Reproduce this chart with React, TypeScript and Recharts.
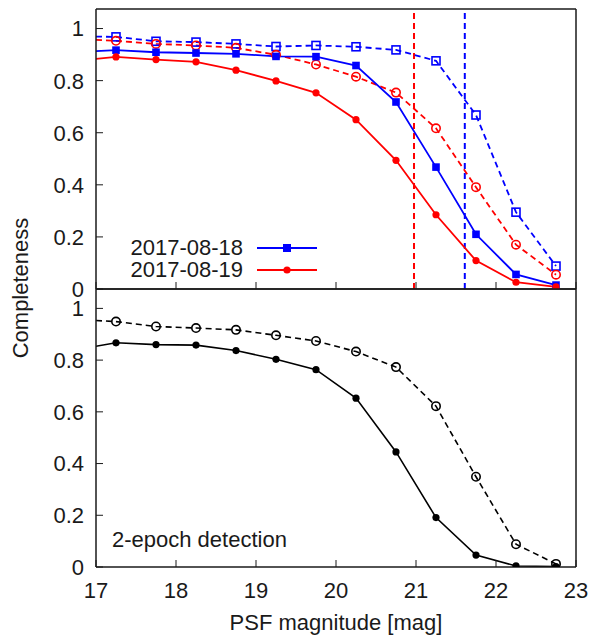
import React from "react";
import { LineChart, Line, XAxis, YAxis, ReferenceLine, Legend } from "recharts";

const FONT = '"Liberation Sans", Arial, Helvetica, sans-serif';
const FS = 22;

// magnitude bins (first one sits just left of the frame and gets clipped)
const mags = [16.75, 17.25, 17.75, 18.25, 18.75, 19.25, 19.75, 20.25, 20.75, 21.25, 21.75, 22.25, 22.75];

const aug18 = [0.91, 0.917, 0.909, 0.906, 0.903, 0.893, 0.892, 0.858, 0.718, 0.468, 0.21, 0.056, 0.015];
const aug18Dash = [0.97, 0.968, 0.951, 0.948, 0.941, 0.931, 0.935, 0.93, 0.918, 0.876, 0.668, 0.295, 0.088];
const aug19 = [0.876, 0.891, 0.881, 0.872, 0.84, 0.799, 0.753, 0.65, 0.494, 0.285, 0.109, 0.026, 0.008];
const aug19Dash = [0.96, 0.953, 0.941, 0.935, 0.926, 0.899, 0.862, 0.815, 0.754, 0.617, 0.391, 0.17, 0.055];
const twoEpoch = [0.84, 0.867, 0.86, 0.858, 0.837, 0.803, 0.763, 0.653, 0.445, 0.191, 0.046, 0.004, 0.002];
const twoEpochDash = [0.957, 0.949, 0.93, 0.924, 0.917, 0.896, 0.874, 0.833, 0.773, 0.622, 0.349, 0.088, 0.012];

const limit18 = 21.61;
const limit19 = 20.975;

const xTicks = [17, 18, 19, 20, 21, 22, 23];
const yTicks = [0, 0.2, 0.4, 0.6, 0.8, 1];

const topData = mags.map((m, i) => ({ m, a18: aug18[i], a18d: aug18Dash[i], a19: aug19[i], a19d: aug19Dash[i] }));
const botData = mags.map((m, i) => ({ m, e2: twoEpoch[i], e2d: twoEpochDash[i] }));

const BLUE = "#0000ff";
const RED = "#ff0000";
const INK = "#1a1a1a";

function LeftTick(props: any) {
  const { x, y, payload } = props;
  return (
    <g>
      <line x1={x} x2={x + 7} y1={y} y2={y} stroke={INK} strokeWidth={1} />
      <text x={x - 12} y={y} dy="0.36em" textAnchor="end" fontSize={FS} fill={INK} fontFamily={FONT}>
        {payload.value}
      </text>
    </g>
  );
}
function RightTick(props: any) {
  const { x, y } = props;
  return <line x1={x} x2={x - 7} y1={y} y2={y} stroke={INK} strokeWidth={1} />;
}
function TopTick(props: any) {
  const { x, y } = props;
  return <line x1={x} x2={x} y1={y} y2={y + 7} stroke={INK} strokeWidth={1} />;
}
function BottomTick(props: any) {
  const { x, y, payload, labels } = props;
  return (
    <g>
      <line x1={x} x2={x} y1={y} y2={y - 7} stroke={INK} strokeWidth={1} />
      {labels && (
        <text x={x} y={y + 15} dy="0.71em" textAnchor="middle" fontSize={FS} fill={INK} fontFamily={FONT}>
          {payload.value}
        </text>
      )}
    </g>
  );
}

const sq = (color: string, open: boolean) => (p: any) =>
  p.cx == null ? <g key={p.key} /> : (
    <rect key={p.key} x={p.cx - (open ? 4 : 3.8)} y={p.cy - (open ? 4 : 3.8)} width={open ? 8 : 7.6} height={open ? 8 : 7.6}
      fill={open ? "none" : color} stroke={color} strokeWidth={open ? 1.6 : 0} />
  );
const circ = (color: string, open: boolean) => (p: any) =>
  p.cx == null ? <g key={p.key} /> : (
    <circle key={p.key} cx={p.cx} cy={p.cy} r={open ? 4.2 : 3.6}
      fill={open ? "none" : color} stroke={color} strokeWidth={open ? 1.6 : 0} />
  );

function LegendBox() {
  const rows = [
    { name: "2017-08-18", color: BLUE, marker: <rect x={26} y={2} width={8} height={8} fill={BLUE} /> },
    { name: "2017-08-19", color: RED, marker: <circle cx={30} cy={6} r={3.6} fill={RED} /> },
  ];
  return (
    <div style={{ fontFamily: FONT, fontSize: FS, color: INK }}>
      {rows.map((r) => (
        <div key={r.name} style={{ display: "flex", alignItems: "center", height: 22 }}>
          <span style={{ width: 135, textAlign: "right", lineHeight: "18px" }}>{r.name}</span>
          <svg width={60} height={12} style={{ marginLeft: 14 }}>
            <line x1={0} x2={60} y1={6} y2={6} stroke={r.color} strokeWidth={2} />
            {r.marker}
          </svg>
        </div>
      ))}
    </div>
  );
}

export default function App() {
  const axisLine = { stroke: INK, strokeWidth: 1.5 };
  const commonAxes = (labels: boolean) => [
    <XAxis key="xb" xAxisId={0} dataKey="m" type="number" domain={[17, 23]} allowDataOverflow ticks={xTicks} interval={0}
      height={1} tickSize={0} tickMargin={0} tickLine={false} axisLine={axisLine}
      tick={(p: any) => <BottomTick {...p} labels={labels} />} />,
    <XAxis key="xt" xAxisId="t" orientation="top" type="number" domain={[17, 23]} ticks={xTicks} interval={0}
      height={1} tickSize={0} tickMargin={0} tickLine={false} axisLine={axisLine} tick={(p: any) => <TopTick {...p} />} />,
    <YAxis key="yl" yAxisId={0} type="number" domain={[0, 1.075]} allowDataOverflow ticks={yTicks} interval={0}
      width={60} tickSize={0} tickMargin={0} tickLine={false} axisLine={axisLine} tick={(p: any) => <LeftTick {...p} />} />,
    <YAxis key="yr" yAxisId="r" orientation="right" type="number" domain={[0, 1.075]} ticks={yTicks} interval={0}
      width={1} tickSize={0} tickMargin={0} tickLine={false} axisLine={axisLine} tick={(p: any) => <RightTick {...p} />} />,
  ];

  return (
    <div style={{ position: "absolute", left: 0, top: 0, width: 589, height: 640, background: "#fff", fontFamily: FONT }}>
      <div style={{ position: "absolute", left: 0, top: 0 }}>
        <LineChart width={589} height={310} data={topData} margin={{ top: 8, right: 12, bottom: 20, left: 36 }}>
          {commonAxes(false)}
          <ReferenceLine x={limit19} stroke={RED} strokeWidth={2} strokeDasharray="6 4" />
          <ReferenceLine x={limit18} stroke={BLUE} strokeWidth={2} strokeDasharray="6 4" />
          <Line dataKey="a18d" stroke={BLUE} strokeWidth={1.8} strokeDasharray="6 4" dot={sq(BLUE, true)} isAnimationActive={false} />
          <Line dataKey="a19d" stroke={RED} strokeWidth={1.8} strokeDasharray="6 4" dot={circ(RED, true)} isAnimationActive={false} />
          <Line dataKey="a18" stroke={BLUE} strokeWidth={1.8} dot={sq(BLUE, false)} isAnimationActive={false} />
          <Line dataKey="a19" stroke={RED} strokeWidth={1.8} dot={circ(RED, false)} isAnimationActive={false} />
          <Legend layout="vertical" align="center" verticalAlign="middle" content={() => <LegendBox />}
            wrapperStyle={{ position: "absolute", left: 108, top: 237, width: 220 }} />
        </LineChart>
      </div>
      <div style={{ position: "absolute", left: 0, top: 280 }}>
        <LineChart width={589} height={360} data={botData} margin={{ top: 8, right: 12, bottom: 72, left: 36 }}>
          {commonAxes(true)}
          <Line dataKey="e2d" stroke="#000" strokeWidth={1.6} strokeDasharray="6 4" dot={circ("#000", true)} isAnimationActive={false} />
          <Line dataKey="e2" stroke="#000" strokeWidth={1.6} dot={circ("#000", false)} isAnimationActive={false} />
        </LineChart>
      </div>
      <svg width={589} height={640} style={{ position: "absolute", left: 0, top: 0, pointerEvents: "none" }}>
        <text x={0} y={0} transform="translate(28 288) rotate(-90)" textAnchor="middle" fontSize={FS} fill={INK} fontFamily={FONT}>
          Completeness
        </text>
        <text x={112} y={547} fontSize={FS} fill={INK} fontFamily={FONT}>2-epoch detection</text>
        <text x={336} y={630} textAnchor="middle" fontSize={FS} fill={INK} fontFamily={FONT}>PSF magnitude [mag]</text>
      </svg>
    </div>
  );
}
